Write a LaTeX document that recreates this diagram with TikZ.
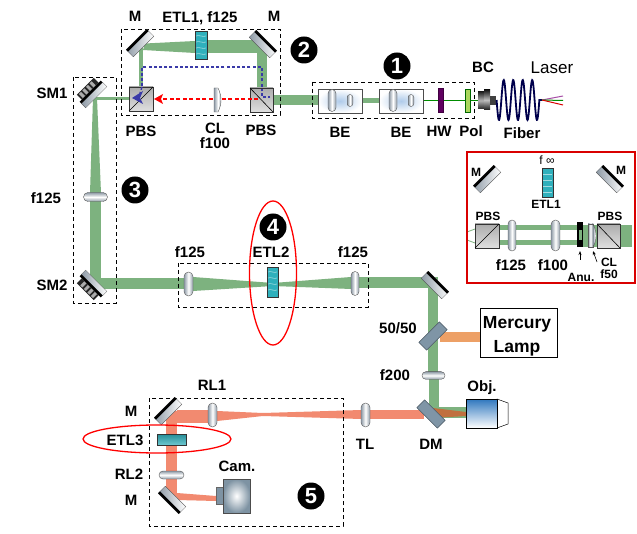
\documentclass[tikz,border=0pt]{standalone}
\usepackage{fontspec}
\usetikzlibrary{arrows.meta}
\setmainfont{Liberation Sans}
\definecolor{bgreen}{HTML}{7DB27F}
\definecolor{bred}{HTML}{F28A70}
\definecolor{borange}{HTML}{EDA066}
\definecolor{bbrown}{HTML}{C0703F}
\definecolor{slate}{HTML}{7F95A6}
\definecolor{teal1}{HTML}{2FB0BC}
\definecolor{lensedge}{HTML}{8E9AA6}
\definecolor{bepale}{HTML}{AFCBEA}
\definecolor{camblue}{HTML}{7E93A3}
\definecolor{objblue}{HTML}{2F77BE}
\definecolor{dotblue}{HTML}{3A3AA8}
\tikzset{
 lab/.style={font=\fontsize{15}{15}\selectfont\bfseries,inner sep=0pt,align=center},
 labs/.style={font=\fontsize{12}{12}\selectfont\bfseries,inner sep=0pt,align=center},
 num/.style={circle,fill=black,text=white,minimum size=27pt,inner sep=0pt,font=\fontsize{22}{22}\selectfont\bfseries},
 dbox/.style={draw=black,line width=0.9pt,dash pattern=on 4pt off 3pt},
 redell/.style={draw=red,line width=1.3pt},
 beamg/.style={fill=bgreen,draw=none},
 beamr/.style={fill=bred,draw=none},
 gshade/.style={draw=gray!70!black,line width=0.4pt,left color=lensedge,right color=lensedge,middle color=white},
 gshadev/.style={draw=gray!70!black,line width=0.4pt,top color=lensedge,bottom color=lensedge,middle color=white},
 mbody/.style={draw=gray!60!black,line width=0.3pt,left color=lensedge,right color=white},
}
% mirror: centre x,y, rotation
\newcommand{\mirr}[3]{\begin{scope}[shift={(#1,#2)},rotate=#3]
 \path[mbody] (-14.5,-5) rectangle (14.5,5);
 \fill[black] (-14.5,-5) rectangle (14.5,-2.4);
\end{scope}}
% scan mirror
\newcommand{\scanm}[3]{\begin{scope}[shift={(#1,#2)},rotate=#3]
 \path[mbody] (-15,0) rectangle (15,6);
 \fill[black] (-15,-2.5) rectangle (15,0);
 \fill[black!85] (-12,-9.5) rectangle (12,-2.5);
 \foreach \u in {-10,-5,0,5}{\fill[gray!65] (\u,-8.5) rectangle (\u+3,-3);}
\end{scope}}
% plate: centre x,y, rotation
\newcommand{\plate}[3]{\begin{scope}[shift={(#1,#2)},rotate=#3]
 \path[fill=slate,draw=slate!60!black,line width=0.5pt] (-14.5,-5.5) rectangle (14.5,5.5);
\end{scope}}
% lenses: x,y,half w,half h
\newcommand{\lensv}[4]{\path[gshadev,rounded corners=#4pt] (#1-#3,#2-#4) rectangle (#1+#3,#2+#4);}
\newcommand{\lensh}[4]{\path[gshade,rounded corners=#3pt] (#1-#3,#2-#4) rectangle (#1+#3,#2+#4);}
% cube: x1,y1,x2,y2, kind
\newcommand{\pbs}[5]{\path[draw=gray!40!black,line width=0.5pt,top color=gray!65,bottom color=gray!25] (#1,#2) rectangle (#3,#4);
 \ifnum#5=0 \draw[black,line width=0.6pt] (#1,#4) -- (#3,#2);\else \draw[black,line width=0.6pt] (#1,#2) -- (#3,#4);\fi}
% ETL
\newcommand{\etl}[4]{\path[draw=black!80,line width=0.6pt,fill=teal1] (#1,#2) rectangle (#3,#4);}
\begin{document}
\begin{tikzpicture}[x=1pt,y=-1pt]
\useasboundingbox[fill=white] (0,0) rectangle (637,534);
% ---------- beams
\fill[beamg] (273,95) rectangle (318,105);
\fill[beamg] (362,98) rectangle (379,103);
\draw[green!55!black,line width=1.2pt] (423,100.5) -- (480,100.5);
\fill[beamg] (257,44) rectangle (267,90);
\fill[beamg] (207,40) rectangle (262,53);
\fill[beamg] (195,41) -- (195,53) -- (143,50) -- (145,43.5) -- cycle;
\fill[beamg] (139,48) rectangle (143,87);
\fill[beamg] (96,97) rectangle (129,100);
\fill[beamg] (93,98) -- (97,98) -- (101,193) -- (90,193) -- cycle;
\fill[beamg] (90,193) rectangle (101,285);
\fill[beamg] (92,278) rectangle (184,289);
\fill[beamg] (193,277) -- (273,283) -- (351,277) -- (351,289) -- (273,286) -- (193,291) -- cycle;
\fill[beamg] (359,277) rectangle (438,288);
\fill[beamg] (428,282) rectangle (438,372);
\fill[beamg] (429,379) rectangle (439,410);
\fill[beamg] (432,407) rectangle (466,418);
\fill[borange] (440,332) rectangle (480,342);
\fill[beamr] (177,410) rectangle (208,423);
\fill[beamr] (166,411) rectangle (177,497);
\fill[beamr] (217,411) -- (263,413) -- (361,410) -- (361,419) -- (263,416) -- (217,421) -- cycle;
\fill[beamr] (370,410) rectangle (424,419);
\fill[bbrown] (433,408) -- (466,412) -- (466,416) -- (433,418) -- cycle;
\fill[beamr] (177,493) -- (216,496) -- (216,501) -- (177,500) -- cycle;
% inset beams
\fill[bgreen] (620,225) rectangle (632,247);
\fill[bgreen] (499,225) rectangle (597,230);
\fill[bgreen] (499,240) rectangle (597,245);
\fill[bgreen] (583,225) rectangle (597,247);
\draw[bgreen,line width=0.8pt] (467,232) -- (475,229);
\draw[bgreen,line width=0.8pt] (467,240) -- (475,243);
% ---------- dotted polarised paths
\draw[dotblue,line width=1.3pt,dash pattern=on 3pt off 2.2pt] (262,97) -- (262,67) -- (142,67) -- (142,90);
\draw[red,line width=1.6pt,dash pattern=on 4pt off 2.5pt] (258,99) -- (160,99);
\fill[red] (154,99) -- (163,94) -- (161,99) -- (163,104) -- cycle;
% ---------- dashed boxes
\path[dbox] (121,29) rectangle (280,115);
\path[dbox] (73,77) rectangle (116,303);
\path[dbox] (178,263) rectangle (368,307);
\path[dbox] (312,82) rectangle (474,118);
\path[dbox] (149,398) rectangle (343,526);
% ---------- box 2
\mirr{140}{43}{45}
\mirr{263}{44}{-45}
\etl{195}{31}{207}{59}
\foreach \q in {36,42,48,54}{\draw[white,opacity=.55,line width=0.6pt] (196,\q) .. controls (199,\q-1.5) and (203,\q+1.5) .. (206,\q);}
\pbs{129}{87}{153}{111}{0}
\pbs{250}{88}{273}{112}{1}
\path[gshade] (214,88) -- (218,88) .. controls (222,96) and (222,104) .. (218,112) -- (214,112) -- cycle;
\fill[dotblue] (132,98) -- (143,91) -- (140,98) -- (143,104) -- cycle;
\draw[dotblue,line width=1.3pt,dash pattern=on 3pt off 2.2pt] (142,87) -- (140,93);
\draw[red,line width=1.6pt,dash pattern=on 4pt off 2.5pt] (258,99) -- (222,99);
\draw[dotblue,line width=1.1pt,dash pattern=on 2.5pt off 2pt] (270,97) -- (262,97) -- (262,88);
% ---------- scan mirrors
\scanm{92}{93}{45}
\scanm{92}{285}{135}
\lensv{95.5}{197}{12}{4.5}
% ---------- box 4
\lensh{188.5}{284}{4.5}{12}
\lensh{355}{283.5}{4}{12}
\etl{267}{267}{278}{297}
\foreach \q in {272,278,284,290}{\draw[white,opacity=.55,line width=0.6pt] (268,\q) .. controls (271,\q-1.5) and (274,\q+1.5) .. (277,\q);}
\mirr{435}{285}{-45}
% ---------- box 1
\foreach \bx/\la/\lb in {318/332/350,379/393/411}{
 \path[draw=gray!60!black,line width=0.5pt,inner color=bepale,outer color=white] (\bx,89) rectangle (\bx+44,113);
 \lensh{\la}{100.5}{4}{11}
 \lensh{\lb}{100.5}{2.8}{6}
}
\path[fill=violet!75!black,draw=violet!50!black,line width=0.3pt] (438,88) rectangle (443,112);
\path[fill=green!35!yellow!60!gray!80!white,draw=green!40!black,line width=0.3pt] (465,89) rectangle (470,112);
\path[top color=black!85,bottom color=black!85,middle color=gray!60] (478,92) rectangle (485,109);
\path[top color=black!90,bottom color=black!90,middle color=gray!50] (484,90) rectangle (490,110);
\path[fill=black!75] (490,96) rectangle (496,105);
\draw[black!70!blue,line width=1.8pt] plot[domain=0:4.5,samples=120,variable=\t] ({496.6+9.5*\t},{100+20*sin(360*\t)}) -- (542,100);
\coordinate (lz) at (542,100);
\draw[violet!70,line width=1pt] (lz) -- (563,96);
\draw[green!55!black,line width=1pt] (lz) -- (563,100.5);
\draw[red!85!black,line width=1pt] (lz) -- (563,105);
% ---------- lower right
\plate{433}{336}{45}
\lensv{433.5}{375.5}{11.5}{3.8}
\plate{431}{414}{-45}
\lensh{365.5}{415}{4.5}{12}
\node[draw=black,line width=1pt,minimum width=77pt,minimum height=49pt,inner sep=0pt,fill=white] (lamp) at (518.5,333.5) {};
\node[font=\fontsize{17.5}{24}\selectfont\bfseries,align=center,inner sep=0pt] (lamptxt) at (517,336) {Mercury\\Lamp};
\path[draw=black,line width=0.5pt,fill=white] (497,399) -- (508,403) -- (508,424) -- (497,428) -- cycle;
\path[draw=black,line width=0.6pt,top color=objblue,bottom color=white] (466,399) rectangle (497,428);
% ---------- box 5
\mirr{168}{411}{45}
\lensh{212.5}{415}{4.5}{12}
\path[draw=black!80,line width=0.5pt,top color=teal1!80!black,bottom color=teal1!70!white] (157,434) rectangle (186,445);
\lensv{171.5}{475}{12.5}{4}
\mirr{172}{500}{135}
\path[draw=black!60,line width=0.5pt,fill=camblue] (216,487) rectangle (223,504);
\path[draw=black!70,line width=0.5pt,inner color=white,outer color=camblue] (223,479) rectangle (250,513);
% ---------- red ellipses
\draw[redell] (273,273) ellipse [x radius=23.5,y radius=72];
\draw[redell] (157,439) ellipse [x radius=74,y radius=14];
% ---------- inset
\path[draw=red!85!black,line width=1.1pt] (467,152) rectangle (635,283);
\mirr{487}{179}{45}
\mirr{610}{179}{-45}
\etl{542}{168}{553}{197}
\foreach \q in {174,180,186,192}{\draw[white,opacity=.55,line width=0.5pt] (543,\q) -- (552,\q);}
\pbs{475}{224}{499}{248}{0}
\pbs{597}{224}{620}{248}{1}
\lensh{512}{235.5}{4}{15.5}
\lensh{555.5}{235.5}{4.5}{15.5}
\fill[black] (577,222) rectangle (583,247);
\fill[bgreen] (578.5,230) rectangle (581.5,240);
\path[gshade] (588,224) rectangle (593,247);
\path[gshade] (593,224) .. controls (597,232) and (597,240) .. (593,247) -- cycle;
\coordinate (aa) at (580,260); \coordinate (ab) at (580,251);
\coordinate (ba) at (597,262); \coordinate (bb) at (593,251);
\draw[-{Stealth[length=4pt,width=3pt]},line width=0.6pt] (aa) -- (ab);
\draw[-{Stealth[length=4pt,width=3pt]},line width=0.6pt] (ba) -- (bb);
% ---------- number discs
\node[num] (n1) at (397,66) {1};
\node[num] (n2) at (304,50) {2};
\node[num] (n3) at (135,190) {3};
\node[num] (n4) at (273,227) {4};
\node[num] (n5) at (311,496) {5};
% ---------- labels
\node[lab] (t1) at (135,16) {M};
\node[lab] (t2) at (274,16) {M};
\node[lab] (t3) at (200,18) {ETL1, f125};
\node[lab] (t4) at (141,131) {PBS};
\node[lab] (t5) at (261,130) {PBS};
\node[lab] (t6) at (215,135.5) {CL\\f100};
\node[lab] (t7) at (52,93) {SM1};
\node[lab] (t8) at (52,285) {SM2};
\node[lab] (t9) at (46,198) {f125};
\node[lab] (t10) at (190,252) {f125};
\node[lab] (t11) at (271,252) {ETL2};
\node[lab] (t12) at (353,252) {f125};
\node[lab] (t13) at (340,132) {BE};
\node[lab] (t14) at (401,132) {BE};
\node[lab] (t15) at (439,131) {HW};
\node[lab] (t16) at (471,131) {Pol};
\node[lab] (t17) at (522,133) {Fiber};
\node[lab] (t18) at (483,67) {BC};
\node[font=\fontsize{17}{17}\selectfont,inner sep=0pt] (t19) at (552,68) {Laser};
\node[lab] (t20) at (398,328) {50/50};
\node[lab] (t21) at (395,375) {f200};
\node[lab] (t22) at (482,388) {Obj.};
\node[lab] (t23) at (431,444) {DM};
\node[lab] (t24) at (365,444) {TL};
\node[lab] (t25) at (212,385) {RL1};
\node[lab] (t26) at (131,411) {M};
\node[lab] (t27) at (125,440) {ETL3};
\node[lab] (t28) at (129,474) {RL2};
\node[lab] (t29) at (131,500) {M};
\node[lab] (t30) at (237,466) {Cam.};
\node[font=\fontsize{12}{12}\selectfont,inner sep=0pt] (t31) at (547,160) {f ∞};
\node[labs] (t32) at (546,204) {ETL1};
\node[labs] (t33) at (476,172) {M};
\node[labs] (t34) at (621,170) {M};
\node[labs] (t35) at (488,216) {PBS};
\node[labs] (t36) at (610,216) {PBS};
\node[lab] (t37) at (511,265) {f125};
\node[lab] (t38) at (553,265) {f100};
\node[labs] (t39) at (581,277) {Anu.};
\node[labs] (t40) at (609,268.5) {CL\\f50};
\end{tikzpicture}
\end{document}
